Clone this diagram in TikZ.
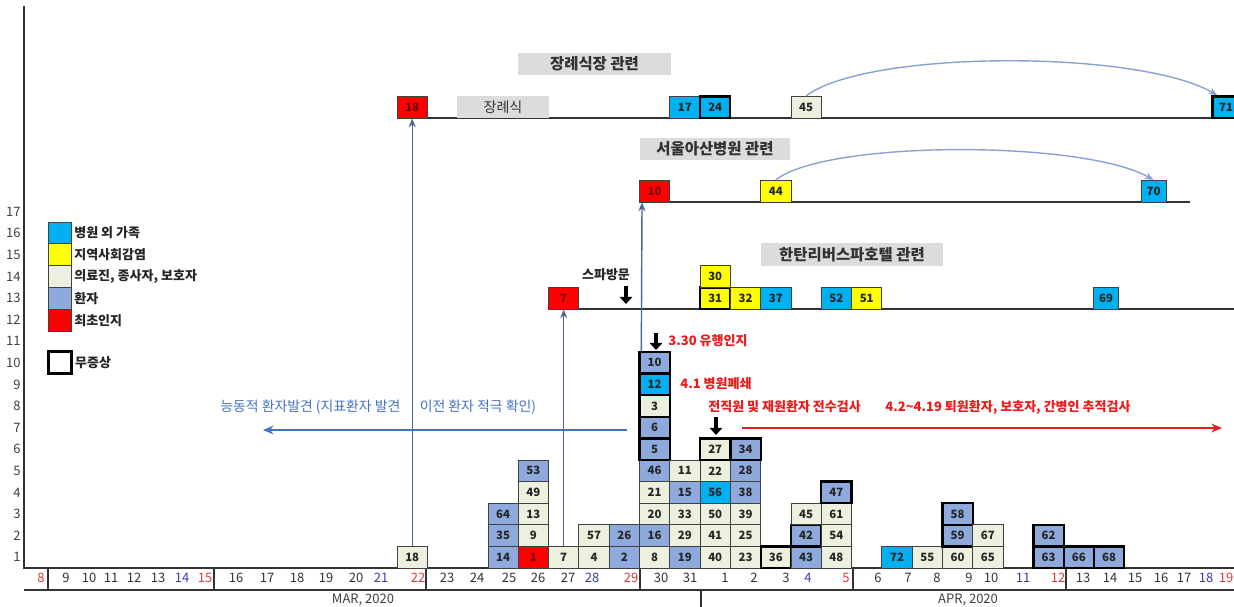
\documentclass[tikz,border=0pt]{standalone}
\usepackage{fontspec}
\setmainfont{Noto Sans CJK KR}
\usetikzlibrary{arrows.meta,calc}

\definecolor{famcyan}{HTML}{00B0F0}
\definecolor{comyellow}{HTML}{FFFF00}
\definecolor{medgreen}{HTML}{EBF1DE}
\definecolor{patblue}{HTML}{8EA9DB}
\definecolor{labelgray}{HTML}{DCDCDC}
\definecolor{linkblue}{HTML}{4472C4}
\definecolor{arcblue}{HTML}{86A3D4}
\definecolor{stemblue}{HTML}{4A6592}
\definecolor{notered}{HTML}{EE1A1A}
\definecolor{sunred}{HTML}{E03A3A}
\definecolor{satblue}{HTML}{3A3AB8}

\tikzset{
  cell/.style={draw=black!75, line width=0.5pt, minimum width=6.06mm, minimum height=4.32mm,
    inner sep=0pt, font=\fontsize{6.5}{7}\selectfont\bfseries, text=black!85},
  patbox/.style={cell, fill=patblue},
  medbox/.style={cell, fill=medgreen},
  fambox/.style={cell, fill=famcyan},
  combox/.style={cell, fill=comyellow},
  firstbox/.style={cell, fill=red, text=red!45!black},
  asym/.style={draw=black, line width=1.3pt},
  grouptitle/.style={fill=labelgray, inner sep=0pt, minimum height=4.5mm,
    font=\fontsize{8.8}{10}\selectfont\bfseries, text=black!80},
  legbox/.style={draw=black!75, line width=0.5pt, minimum width=4.7mm, minimum height=4.36mm, inner sep=0pt},
  legtext/.style={anchor=west, inner sep=1pt, font=\fontsize{7.4}{8}\selectfont\bfseries, text=black!85},
  axislab/.style={inner sep=0pt, font=\fontsize{7.4}{8}\selectfont, text=black!75},
  datelab/.style={inner sep=0pt, font=\fontsize{7.4}{8}\selectfont},
  note/.style={anchor=west, inner sep=0pt, font=\fontsize{7.4}{8}\selectfont\bfseries, text=notered},
  rowline/.style={draw=black!80, line width=0.8pt},
  stem/.style={draw=stemblue, line width=0.8pt, -{Stealth[length=5pt,width=4pt]}},
  arcline/.style={draw=arcblue, line width=0.8pt, -{Stealth[length=5pt,width=4pt]}},
  droparrow/.style={draw=black, line width=2.2pt, -{Triangle[length=4pt,width=7pt]}},
}

\begin{document}
\begin{tikzpicture}[x=0.02cm,y=-0.02cm]
        \useasboundingbox (0,0) rectangle (1234,607);
        \fill[white] (0,0) rectangle (1234,607);

        % axes
        \draw[black!80,line width=0.6pt] (24,6) -- (24,568) -- (1234,568);
        \draw[black!80,line width=0.6pt] (24,590) -- (1234,590);
        \draw[black!80,line width=0.6pt] (48,568) -- (48,590);
        \draw[black!80,line width=0.6pt] (214,568) -- (214,590);
        \draw[black!80,line width=0.6pt] (426,568) -- (426,590);
        \draw[black!80,line width=0.6pt] (640,568) -- (640,590);
        \draw[black!80,line width=0.6pt] (853,568) -- (853,590);
        \draw[black!80,line width=0.6pt] (1066,568) -- (1066,590);
        \draw[black!80,line width=0.6pt] (701,590) -- (701,607);
        \foreach \k in {1,...,17}
            \node[axislab,anchor=east] (y\k) at (21,{568-(\k-0.5)*21.6}) {\k};
        \foreach \x/\d/\col in {41/8/sunred, 66/9/black!80, 89/10/black!80, 111/11/black!80,
            134/12/black!80, 158/13/black!80, 182/14/satblue, 205/15/sunred, 236/16/black!80,
            267/17/black!80, 297/18/black!80, 326/19/black!80, 356/20/black!80, 381/21/satblue,
            418/22/sunred, 447/23/black!80, 477/24/black!80, 509/25/black!80, 538/26/black!80,
            568/27/black!80, 592/28/satblue, 631/29/sunred, 661/30/black!80, 690/31/black!80}
            \node[datelab,text=\col] (m\d) at (\x,578) {\d};
        \foreach \x/\d/\col in {725/1/black!80, 754/2/black!80, 786/3/black!80, 808/4/satblue,
            846/5/sunred, 878/6/black!80, 908/7/black!80, 937/8/black!80, 969/9/black!80,
            991/10/black!80, 1023/11/satblue, 1058/12/sunred, 1083/13/black!80, 1110/14/black!80,
            1135/15/black!80, 1161/16/black!80, 1184/17/black!80, 1206/18/satblue, 1226/19/sunred}
            \node[datelab,text=\col] (a\d) at (\x,578) {\d};
        \node[axislab] (mar) at (363,600) {MAR, 2020};
        \node[axislab] (apr) at (968,600) {APR, 2020};

        % legend
        \node[legbox,fill=famcyan] (l1) at (60,233) {};
        \node[legbox,fill=comyellow] (l2) at (60,254.8) {};
        \node[legbox,fill=medgreen] (l3) at (60,276.6) {};
        \node[legbox,fill=patblue] (l4) at (60,298.4) {};
        \node[legbox,fill=red] (l5) at (60,320.2) {};
        \node[legbox,fill=white,draw=black,line width=1.5pt] (l6) at (60,362.5) {};
        \node[legtext] (t1) at (l1.east) {병원 외 가족};
        \node[legtext] (t2) at (l2.east) {지역사회감염};
        \node[legtext] (t3) at (l3.east) {의료진, 종사자, 보호자};
        \node[legtext] (t4) at (l4.east) {환자};
        \node[legtext] (t5) at (l5.east) {최초인지};
        \node[legtext] (t6) at (l6.east) {무증상};

        % funeral row
        \node[grouptitle,minimum width=3.06cm] (ftitle) at (594.5,64) {장례식장 관련};
        \draw[rowline] (397,118) -- (1234,118);
        \node[fill=labelgray,minimum width=1.84cm,minimum height=4.3mm,inner sep=0pt,
            font=\fontsize{8}{9}\selectfont,text=black!80] (rite) at (503,107) {장례식};
        \node[firstbox] (f18) at (412.2,107.2) {18};
        \node[fambox] (f17) at (684.9,107.2) {17};
        \node[fambox,asym] (f24) at (715.2,107.2) {24};
        \node[medbox] (f45) at (806.1,107.2) {45};
        \node[fambox,asym,minimum width=5.4mm] (f71) at (1226,107.2) {71};
        \draw[arcline] (f45.north) .. controls +(60,-46) and +(-80,-46) .. ($(f71.north west)+(6,0)$);

        % asan row
        \node[grouptitle,minimum width=3.0cm] (stitle) at (715,149) {서울아산병원 관련};
        \draw[rowline] (639,202) -- (1190,202);
        \node[firstbox] (s10) at (654.6,191.2) {10};
        \node[combox] (s44) at (775.8,191.2) {44};
        \node[fambox,minimum width=5mm] (s70) at (1153.5,191.2) {70};
        \draw[arcline] (s44.north) .. controls +(50,-40) and +(-70,-40) .. (s70.north);

        % hantan row
        \node[grouptitle,minimum width=3.64cm] (htitle) at (852,254.5) {한탄리버스파호텔 관련};
        \draw[rowline] (548,309) -- (1234,309);
        \node[firstbox] (h7) at (563.7,298.2) {7};
        \node[combox,asym] (h31) at (715.2,298.2) {31};
        \node[combox] (h30) at (715.2,276.6) {30};
        \node[combox] (h32) at (745.5,298.2) {32};
        \node[fambox] (h37) at (775.8,298.2) {37};
        \node[fambox] (h52) at (836.4,298.2) {52};
        \node[combox] (h51) at (866.7,298.2) {51};
        \node[fambox,minimum width=4.9mm] (h69) at (1106,298.2) {69};
        \node[inner sep=0pt,font=\fontsize{7.4}{8}\selectfont\bfseries,text=black!85] (spa) at (606,275) {스파방문};
        \coordinate (spa1) at (626,286);
        \coordinate (spa2) at (626,304);
        \draw[droparrow] (spa1) -- (spa2);

        % chart boxes
        \node[medbox] (c18) at (412.2,557.2) {18};
        \node[patbox] (c14) at (503.1,557.2) {14};
        \node[patbox] (c35) at (503.1,535.6) {35};
        \node[patbox] (c64) at (503.1,514.0) {64};
        \node[firstbox] (c1) at (533.4,557.2) {1};
        \node[medbox] (c9) at (533.4,535.6) {9};
        \node[medbox] (c13) at (533.4,514.0) {13};
        \node[medbox] (c49) at (533.4,492.4) {49};
        \node[patbox] (c53) at (533.4,470.8) {53};
        \node[medbox] (c7) at (563.7,557.2) {7};
        \node[medbox] (c4) at (594.0,557.2) {4};
        \node[medbox] (c57) at (594.0,535.6) {57};
        \node[patbox] (c2) at (624.3,557.2) {2};
        \node[patbox] (c26) at (624.3,535.6) {26};
        \node[medbox] (c8) at (654.6,557.2) {8};
        \node[patbox] (c16) at (654.6,535.6) {16};
        \node[medbox] (c20) at (654.6,514.0) {20};
        \node[medbox] (c21) at (654.6,492.4) {21};
        \node[patbox] (c46) at (654.6,470.8) {46};
        \node[patbox,asym] (c5) at (654.6,449.2) {5};
        \node[patbox,asym] (c6) at (654.6,427.6) {6};
        \node[medbox,asym] (c3) at (654.6,406.0) {3};
        \node[fambox,asym] (c12) at (654.6,384.4) {12};
        \node[patbox,asym] (c10) at (654.6,362.8) {10};
        \node[patbox] (c19) at (684.9,557.2) {19};
        \node[medbox] (c29) at (684.9,535.6) {29};
        \node[medbox] (c33) at (684.9,514.0) {33};
        \node[patbox] (c15) at (684.9,492.4) {15};
        \node[medbox] (c11) at (684.9,470.8) {11};
        \node[medbox] (c40) at (715.2,557.2) {40};
        \node[medbox] (c41) at (715.2,535.6) {41};
        \node[medbox] (c50) at (715.2,514.0) {50};
        \node[fambox] (c56) at (715.2,492.4) {56};
        \node[medbox] (c22) at (715.2,470.8) {22};
        \node[medbox,asym] (c27) at (715.2,449.2) {27};
        \node[medbox] (c23) at (745.5,557.2) {23};
        \node[medbox] (c25) at (745.5,535.6) {25};
        \node[medbox] (c39) at (745.5,514.0) {39};
        \node[patbox] (c38) at (745.5,492.4) {38};
        \node[patbox] (c28) at (745.5,470.8) {28};
        \node[patbox,asym] (c34) at (745.5,449.2) {34};
        \node[medbox,asym] (c36) at (775.8,557.2) {36};
        \node[patbox] (c43) at (806.1,557.2) {43};
        \node[patbox,asym] (c42) at (806.1,535.6) {42};
        \node[medbox] (c45) at (806.1,514.0) {45};
        \node[medbox] (c48) at (836.4,557.2) {48};
        \node[medbox] (c54) at (836.4,535.6) {54};
        \node[medbox] (c61) at (836.4,514.0) {61};
        \node[patbox,asym] (c47) at (836.4,492.4) {47};
        \node[fambox] (c72) at (897.0,557.2) {72};
        \node[medbox] (c55) at (927.3,557.2) {55};
        \node[medbox] (c60) at (957.6,557.2) {60};
        \node[patbox,asym] (c59) at (957.6,535.6) {59};
        \node[patbox,asym] (c58) at (957.6,514.0) {58};
        \node[medbox] (c65) at (987.9,557.2) {65};
        \node[medbox] (c67) at (987.9,535.6) {67};
        \node[patbox,asym] (c63) at (1048.5,557.2) {63};
        \node[patbox,asym] (c62) at (1048.5,535.6) {62};
        \node[patbox,asym] (c66) at (1078.8,557.2) {66};
        \node[patbox,asym] (c68) at (1109.1,557.2) {68};

        % links up to the clusters
        \draw[stem] (c18.north) -- (f18.south);
        \draw[stem] (c7.north) -- (h7.south);
        \draw[stem] ($(c10.north west)+(3,0)$) -- ($(s10.south west)+(3,0)$);

        % notes
        \coordinate (d1a) at (656,333);
        \coordinate (d1b) at (656,350);
        \draw[droparrow] (d1a) -- (d1b);
        \node[note] (n330) at (668,341) {3.30 유행인지};
        \node[note] (n41) at (680,384) {4.1 병원폐쇄};
        \node[note] (nall) at (708,407) {전직원 및 재원환자 전수검사};
        \coordinate (d2a) at (716,417);
        \coordinate (d2b) at (716,435);
        \draw[droparrow] (d2a) -- (d2b);
        \node[note] (ntrace) at (885,407) {4.2\textasciitilde4.19 퇴원환자, 보호자, 간병인 추적검사};
        \coordinate (r1) at (742,428);
        \coordinate (r2) at (1222,428);
        \draw[draw=notered,line width=1.1pt,-{Stealth[length=6pt,width=5pt]}] (r1) -- (r2);
        \node[anchor=west,inner sep=0pt,font=\fontsize{7.9}{8}\selectfont,text=linkblue] (nfind) at (220,407)
            {능동적 환자발견 (지표환자 발견\hspace{1.4em}이전 환자 적극 확인)};
        \coordinate (b1) at (627,430);
        \coordinate (b2) at (263,430);
        \draw[draw=linkblue,line width=1.1pt,-{Stealth[length=6pt,width=5pt]}] (b1) -- (b2);
\end{tikzpicture}
\end{document}
